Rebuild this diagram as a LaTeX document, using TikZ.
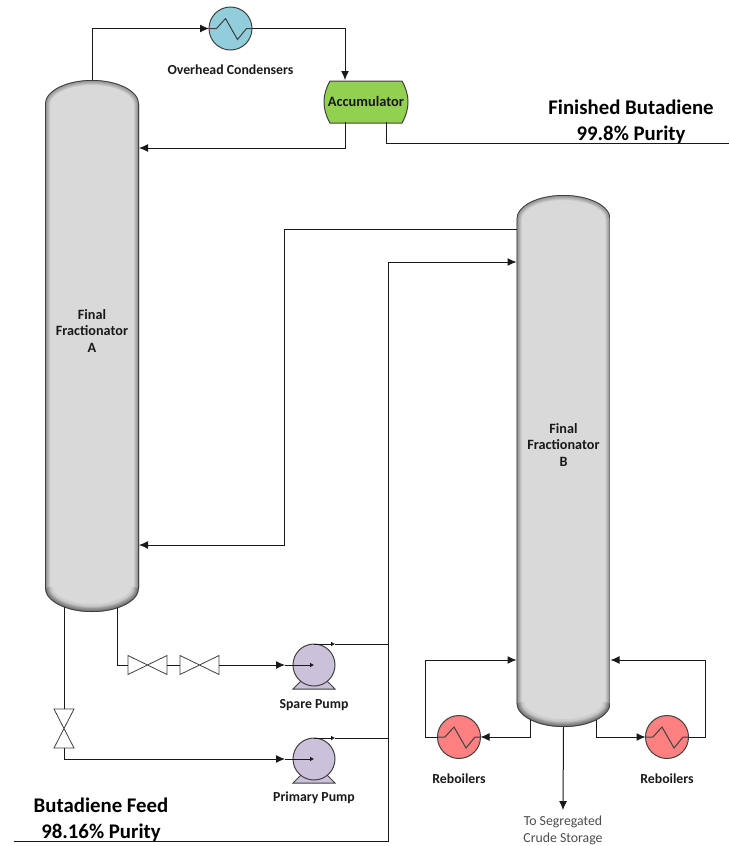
\documentclass[tikz,border=0pt]{standalone}
\usepackage{fontspec}
\setmainfont{Carlito}
\usepackage{tikz}
\usetikzlibrary{arrows.meta,positioning,calc}
\definecolor{condBlue}{RGB}{146,205,220}
\definecolor{accGreen}{RGB}{146,208,80}
\definecolor{pumpPurple}{RGB}{204,193,218}
\definecolor{reboilRed}{RGB}{255,128,128}
\definecolor{columnGray}{RGB}{217,217,217}
\definecolor{edgeGray}{RGB}{64,64,64}
\tikzset{
  flow/.style={-{Latex[length=9pt,width=8pt]},line width=1pt,black!90},
  pipe/.style={line width=1pt,black!90},
  smallflow/.style={-{Latex[length=4pt,width=5pt]},line width=1pt,black!90},
  tag/.style={font=\fontsize{13.8}{16.5}\selectfont\bfseries,text=black!90,inner sep=0pt},
  bigtag/.style={font=\fontsize{20.8}{25.5}\selectfont\bfseries,align=center,inner sep=0pt},
  column/.style={minimum width=94pt,minimum height=532pt,inner sep=0pt,outer sep=0pt,
    path picture={
      \def\columnshape{(path picture bounding box.north west) ++(0,24)
        arc[start angle=180,end angle=0,x radius=47pt,y radius=24pt] -- ++(0,484)
        arc[start angle=0,end angle=-180,x radius=47pt,y radius=24pt] -- cycle}
      \begin{scope}
        \clip \columnshape;
        \fill[columnGray] (path picture bounding box.north west) rectangle (path picture bounding box.south east);
        \foreach \w in {2,4,...,10} {\draw[black,opacity=.08,line width=\w pt] \columnshape;}
        \foreach \w in {4,8,...,16} {\draw[black,opacity=.05,line width=\w pt]
          (path picture bounding box.south west) ++(0,-24)
          arc[start angle=180,end angle=360,x radius=47pt,y radius=24pt];}
        \draw[edgeGray,line width=1.6pt] \columnshape;
      \end{scope}
    }},
  columntag/.style={align=center,font=\fontsize{14.2}{16.7}\selectfont\bfseries,text=black!90,inner sep=0pt},
  exchanger/.style={circle,draw=edgeGray,line width=1pt,minimum size=43pt,inner sep=0pt,outer sep=0pt,
    path picture={
      \draw[edgeGray,line width=1pt] (path picture bounding box.west) -- ([shift={(-14,0)}]path picture bounding box.center)
        -- ([shift={(-5,-10)}]path picture bounding box.center) -- ([shift={(7,11)}]path picture bounding box.center)
        -- ([shift={(16,0)}]path picture bounding box.center) -- (path picture bounding box.east);
    }},
  pumpbody/.style={circle,draw=edgeGray,line width=1pt,fill=pumpPurple,minimum size=42pt,inner sep=0pt,outer sep=0pt},
  pumpbase/.style={draw=edgeGray,line width=1pt,fill=pumpPurple},
  valveh/.style={minimum width=39pt,minimum height=19pt,inner sep=0pt,outer sep=0pt,append after command={\pgfextra{
      \draw[edgeGray,line width=.8pt] (\tikzlastnode.north west) -- (\tikzlastnode.south east)
        -- (\tikzlastnode.north east) -- (\tikzlastnode.south west) -- cycle;}}},
  valvev/.style={minimum width=20pt,minimum height=39pt,inner sep=0pt,outer sep=0pt,append after command={\pgfextra{
      \draw[edgeGray,line width=.8pt] (\tikzlastnode.north west) -- (\tikzlastnode.south east)
        -- (\tikzlastnode.south west) -- (\tikzlastnode.north east) -- cycle;}}},
}
\begin{document}
\begin{tikzpicture}[x=1pt,y=-1pt]
  \useasboundingbox (0,0) rectangle (729,846);
  % Columns
  \node[column] (colA) at (92,346) {};
  \node[columntag] (colALabel) at (92,331) {Final\\Fractionator\\A};
  \node[column] (colB) at (563.5,461) {};
  \node[columntag] (colBLabel) at (563.5,445) {Final\\Fractionator\\B};
  % Overhead equipment
  \node[exchanger,fill=condBlue] (cond) at (230.5,28.5) {};
  \node[tag,below=15pt of cond] (condLabel) {Overhead Condensers};
  \draw[draw=edgeGray,line width=1pt,fill=accGreen] (330,81) -- (402,81)
    .. controls (410,95) and (410,109) .. (402,123) -- (330,123)
    .. controls (322,109) and (322,95) .. (330,81) -- cycle;
  \node[minimum width=84pt,minimum height=42pt,inner sep=0pt,outer sep=0pt,
    font=\fontsize{14.4}{16}\selectfont\bfseries,text=black!90] (acc) at (366,101) {Accumulator};
  % Pumps
  \draw[pumpbase] (293,689) -- (301,681) -- (327,681) -- (335,689) -- cycle;
  \node[pumpbody] (spare) at (314,665) {};
  \node[tag,below=13pt of spare] (spareLabel) {Spare Pump};
  \draw[pumpbase] (293,783) -- (301,775) -- (327,775) -- (335,783) -- cycle;
  \node[pumpbody] (primary) at (314,759) {};
  \node[tag,below=12pt of primary] (primaryLabel) {Primary Pump};
  % Valves
  \node[valveh] (valveA) at (147.5,665) {};
  \node[valveh] (valveB) at (199.5,665) {};
  \node[valvev] (valveC) at (64,728.5) {};
  % Reboilers
  \node[exchanger,fill=reboilRed] (reboilL) at (459,737) {};
  \node[tag,below=15pt of reboilL] (reboilLLabel) {Reboilers};
  \node[exchanger,fill=reboilRed] (reboilR) at (667,737) {};
  \node[tag,below=15pt of reboilR] (reboilRLabel) {Reboilers};
  % Stream labels
  \node[bigtag] (finished) at (631,122) {Finished Butadiene\\99.8\% Purity};
  \node[bigtag] (feed) at (101,820) {Butadiene Feed\\98.16\% Purity};
  \node[font=\fontsize{13.8}{16.5}\selectfont,align=center,text=black!70,inner sep=0pt] (storage)
    at (563,830.5) {To Segregated\\Crude Storage};
  % Free ends and the riser
  \coordinate (productEnd) at (729,143);
  \coordinate (feedEnd) at (14,841);
  \coordinate (riserBot) at (388.5,841);
  \coordinate (riserTop) at (388.5,262);
  \coordinate (refluxTurn) at (345,148);
  \coordinate (crossA) at (284,229);
  \coordinate (crossB) at (284,545);
  \coordinate (reboilLTop) at (425,660);
  \coordinate (reboilRTop) at (705,660);
  % Overhead loop
  \draw[flow] (colA.north) |- (cond.west);
  \draw[flow] (cond.east) -| ([xshift=-21pt]acc.north);
  \draw[flow] ([xshift=-21pt]acc.south) |- (colA.east |- refluxTurn);
  \draw[pipe] ([xshift=20.5pt]acc.south) |- (productEnd);
  % Between the columns
  \draw[flow] (colB.west |- crossA) -- (crossA) -- (crossB) -- (colA.east |- crossB);
  \draw[flow] (feedEnd) -- (riserBot) -- (riserTop) -- (colB.west |- riserTop);
  % Bottoms to the pumps
  \draw[pipe] ([shift={(25,-4)}]colA.south) |- (valveA.west);
  \draw[pipe] (valveA.east) -- (valveB.west);
  \draw[flow] (valveB.east) -- ([xshift=-8pt]spare.west);
  \draw[smallflow] ([xshift=-8pt]spare.west) -- (spare.center);
  \draw[pipe] ([shift={(-28,-5)}]colA.south) -- (valveC.north);
  \draw[flow] (valveC.south) |- ([xshift=-8pt]primary.west);
  \draw[smallflow] ([xshift=-8pt]primary.west) -- (primary.center);
  \draw[smallflow] (spare.north) -- ++(21,0);
  \draw[pipe] ([xshift=21pt]spare.north) -- (spare.north -| riserTop);
  \draw[smallflow] (primary.north) -- ++(21,0);
  \draw[pipe] ([xshift=21pt]primary.north) -- (primary.north -| riserTop);
  % Reboiler loops
  \draw[flow] ([shift={(-33.5,-7)}]colB.south) |- (reboilL.east);
  \draw[flow] (reboilL.west) -- (reboilL.west -| reboilLTop) -- (reboilLTop) -- (colB.west |- reboilLTop);
  \draw[flow] ([shift={(32.5,-7)}]colB.south) |- (reboilR.west);
  \draw[flow] (reboilR.east) -- (reboilR.east -| reboilRTop) -- (reboilRTop) -- (colB.east |- reboilRTop);
  \draw[flow] (colB.south) -- ([yshift=6pt]storage.north);
\end{tikzpicture}
\end{document}
